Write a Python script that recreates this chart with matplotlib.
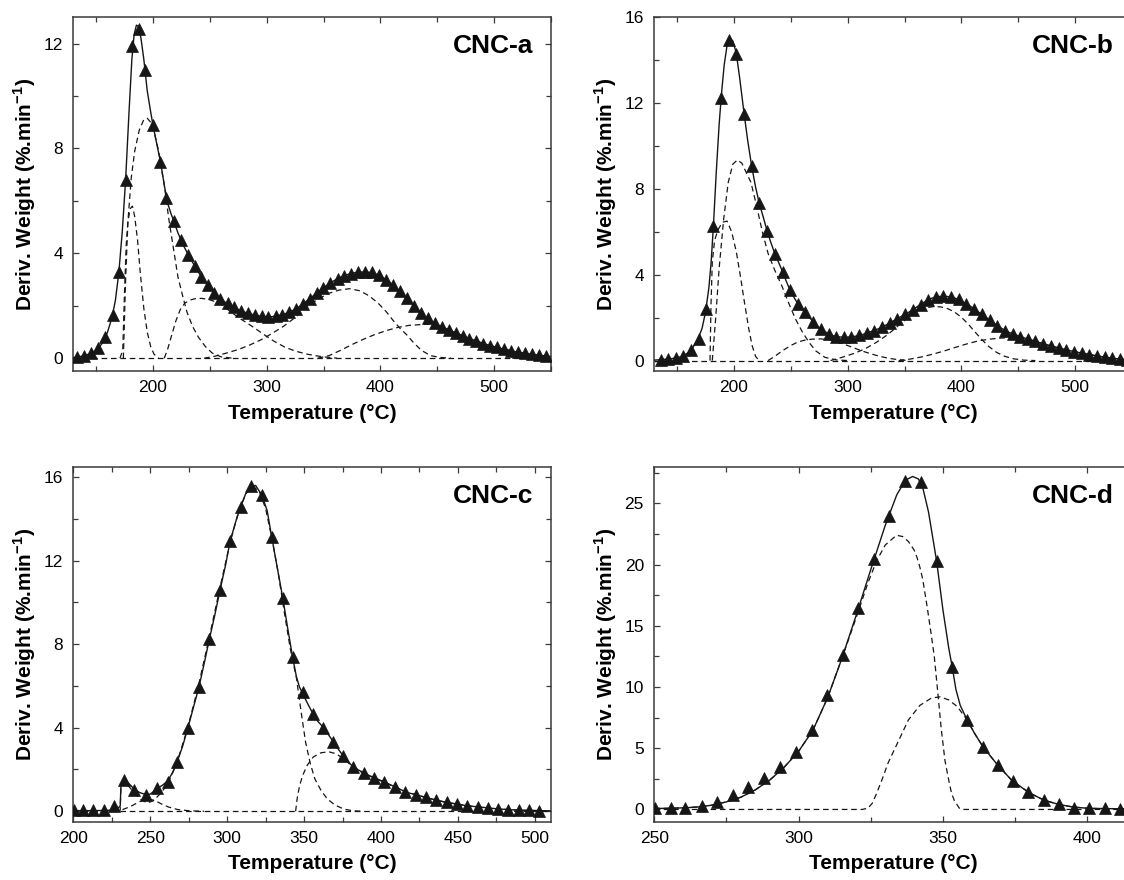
"""
DTG curves of four CNC samples with deconvoluted peaks (2x2 panels).
"""

import matplotlib
matplotlib.use("Agg")
import matplotlib.pyplot as plt
from matplotlib.ticker import MultipleLocator

plt.rcParams["font.family"] = ["Liberation Sans", "DejaVu Sans"]
plt.rcParams["mathtext.fontset"] = "custom"
plt.rcParams["mathtext.rm"] = "Liberation Sans"
plt.rcParams["mathtext.bf"] = "Liberation Sans:bold"

# ================================================================
# 1. data  (temperature in °C, DTG in %/min)
# ================================================================
# ---- CNC-a ----
a_pts_T = [133, 139, 145.5, 152, 158, 164.5, 170, 176, 181.8, 187.7, 193, 200, 206.6, 211.6,
           218.5, 224.8, 231, 236.8, 242.4, 248.4, 254, 259.4, 265.7, 271.3, 277.6, 283.6,
           289.5, 295.5, 301.5, 307.8, 313.7, 320, 326, 332, 338, 344, 349.9, 356, 362.4,
           368.4, 374.4, 380.6, 386.6, 392.9, 398.9, 404.8, 410.8, 417, 423.4, 429.3, 435.6,
           441.7, 447.8, 453.9, 460, 466.1, 472.2, 478.3, 484.4, 490.5, 496.6, 502.7, 508.8,
           514.9, 521, 527.1, 533.2, 539.3, 545.4]
a_pts_y = [0.04, 0.08, 0.18, 0.38, 0.8, 1.65, 3.3, 6.8, 11.9, 12.55, 11.0, 8.9, 7.5, 6.1,
           5.25, 4.5, 3.95, 3.5, 3.1, 2.78, 2.5, 2.27, 2.1, 1.94, 1.8, 1.72,
           1.65, 1.6, 1.58, 1.6, 1.65, 1.76, 1.88, 2.08, 2.27, 2.48, 2.67, 2.87, 3.02,
           3.15, 3.22, 3.27, 3.29, 3.27, 3.16, 3.0, 2.8, 2.55, 2.3, 2.0, 1.72,
           1.52, 1.33, 1.2, 1.08, 0.97, 0.86, 0.75, 0.65, 0.56, 0.48, 0.41, 0.34,
           0.28, 0.23, 0.19, 0.15, 0.11, 0.08]
a_fit_T = [130, 136, 142, 147, 152, 156, 160, 164, 167, 170, 173, 176, 179, 181.5, 183.5,
           185.5, 187.5, 189.5, 192, 195, 198, 200, 203, 206.6, 210, 213, 216, 219, 222,
           225, 228, 231, 234, 237, 240, 243, 246, 249, 252, 255, 259, 263, 267, 271, 276,
           281, 286, 291, 296, 301, 306, 311, 316, 321, 326, 331, 336, 341, 346, 351, 356,
           361, 366, 371, 376, 381, 386, 391, 396, 401, 406, 411, 416, 421, 426, 431, 436,
           441, 446, 452, 458, 464, 470, 476, 482, 488, 494, 500, 506, 512, 518, 524, 530,
           536, 542, 550]
a_fit_y = [0.02, 0.06, 0.13, 0.22, 0.38, 0.6, 0.98, 1.55, 2.2, 3.25, 4.8, 6.8, 9.4, 11.4, 12.35,
           12.7, 12.65, 12.2, 11.4, 10.2, 9.4, 8.9, 8.25, 7.5, 6.6, 5.9, 5.5, 5.15, 4.78,
           4.48, 4.2, 3.95, 3.72, 3.5, 3.28, 3.08, 2.9, 2.75, 2.6, 2.47, 2.3, 2.15, 2.04, 1.94, 1.83,
           1.75, 1.68, 1.63, 1.59, 1.57, 1.59, 1.63, 1.69, 1.78, 1.88, 2.04, 2.21, 2.38, 2.56, 2.72, 2.87,
           3.0, 3.11, 3.19, 3.25, 3.28, 3.29, 3.27, 3.21, 3.1, 2.96, 2.79, 2.58, 2.38, 2.15, 1.93, 1.71,
           1.53, 1.38, 1.24, 1.12, 1.0, 0.9, 0.79, 0.69, 0.6, 0.51, 0.44, 0.37, 0.31, 0.25, 0.21, 0.17,
           0.13, 0.1, 0.06]
a_c1_T = [171, 173.5, 175, 176.5, 178, 180, 182, 184, 186.5, 189, 192, 195, 198, 201, 205]
a_c1_y = [0, 0.3, 2.5, 4.3, 5.2, 5.7, 5.8, 5.4, 4.5, 3.2, 1.9, 1.0, 0.45, 0.15, 0]
a_c2_T = [174, 176, 178, 181, 184, 188, 192, 195, 198, 201, 205, 210, 214, 218, 222, 226, 230,
          235, 240, 246, 252, 260, 270]
a_c2_y = [0, 3.0, 5.2, 6.9, 7.9, 8.7, 9.1, 9.15, 9.0, 8.65, 7.9, 6.6, 5.3, 4.2, 3.1, 2.4, 1.75,
          1.2, 0.8, 0.45, 0.2, 0.05, 0]
a_c3_T = [210, 213, 216, 220, 224, 228, 233, 238, 243, 248, 254, 260, 268, 277, 286, 296, 306,
          316, 326, 336, 348, 362]
a_c3_y = [0, 0.35, 0.8, 1.4, 1.85, 2.1, 2.22, 2.28, 2.28, 2.25, 2.17, 2.05, 1.78, 1.5, 1.25, 0.95, 0.66,
          0.42, 0.26, 0.15, 0.06, 0]
a_c4_T = [245, 255, 265, 275, 285, 295, 305, 315, 325, 335, 345, 355, 364, 373, 382, 390, 398,
          405, 411, 417, 423, 429, 436, 444, 452, 462]
a_c4_y = [0, 0.08, 0.2, 0.33, 0.5, 0.7, 0.95, 1.22, 1.55, 1.95, 2.25, 2.48, 2.6, 2.65, 2.57, 2.38, 2.1,
          1.78, 1.45, 1.15, 0.9, 0.6, 0.3, 0.1, 0.03, 0]
a_c5_T = [345, 355, 365, 375, 385, 395, 405, 415, 425, 435, 442, 448, 454, 460, 466, 472, 478,
          484, 490, 497, 503, 509, 515, 521, 527, 533, 539, 545, 550]
a_c5_y = [0, 0.1, 0.3, 0.52, 0.72, 0.9, 1.05, 1.17, 1.25, 1.28, 1.3, 1.28, 1.18, 1.07, 0.97, 0.86, 0.75,
          0.65, 0.56, 0.48, 0.41, 0.34, 0.28, 0.23, 0.19, 0.15, 0.11, 0.08, 0.06]

# ---- CNC-b ----
b_pts_T = [135.6, 141.9, 148.9, 155.6, 162.5, 168.9, 175.6, 181.9, 188.9, 195.9, 202.2, 208.9,
           215.6, 222.2, 229.2, 235.9, 242.9, 249.5, 256.2, 262.5, 269.5, 276.2, 283.2, 289.8,
           296.5, 303.2, 310.2, 316.8, 323.5, 330.2, 337.1, 343.8, 350.5, 357.1, 364.1, 370.5,
           377.5, 384.1, 391.1, 397.8, 404.4, 411.1, 418.1, 424.8, 431.4, 438.1, 445.1, 451.7,
           458.4, 465.1, 472, 478.7, 485.4, 492, 499, 505.7, 512.4, 519, 526, 532.7, 539.4, 546]
b_pts_y = [0.03, 0.08, 0.12, 0.23, 0.51, 1.0, 2.4, 6.27, 12.26, 14.94, 14.3, 11.5,
           9.06, 7.35, 6.04, 4.98, 4.12, 3.27, 2.65, 2.26, 1.82, 1.48, 1.25, 1.12,
           1.09, 1.09, 1.17, 1.28, 1.4, 1.56, 1.76, 1.95, 2.15, 2.37, 2.61, 2.83,
           2.96, 3.0, 2.96, 2.85, 2.65, 2.41, 2.15, 1.9, 1.63, 1.4, 1.25, 1.12,
           1.01, 0.9, 0.78, 0.68, 0.59, 0.5, 0.42, 0.36, 0.28, 0.22, 0.16, 0.11, 0.06, 0.04]
b_fit_T = [130, 140, 148, 155, 160, 164, 168, 172, 175, 178, 180, 182, 184.5, 187, 189, 191.5,
           194, 196.5, 199, 202, 205, 208.5, 212, 215.6, 219, 222.2, 226, 229.2, 232.5, 236,
           239.5, 243, 246, 249.5, 253, 256.2, 259.5, 262.5, 266, 269.5, 273, 276.2, 280, 283.2,
           286.5, 289.8, 293, 296.5, 300, 306.5, 313.5, 320, 327, 333.5, 340.5, 347, 354, 360.5,
           367.5, 374, 381, 387.5, 394.5, 401, 408, 414.5, 421.5, 428, 435, 441.5, 448.5, 455,
           465, 472, 478.7, 485.4, 492, 499, 505.7, 512.4, 519, 526, 532.7, 539.4, 546, 550]
b_fit_y = [0.02, 0.06, 0.11, 0.2, 0.38, 0.62, 0.95, 1.5, 2.25, 3.4, 4.6, 6.3, 8.8, 11.0, 12.4, 13.8,
           14.7, 15.0, 14.9, 14.35, 13.2, 11.7, 10.3, 9.06, 8.1, 7.35, 6.65, 6.04, 5.5, 4.98,
           4.55, 4.12, 3.7, 3.27, 2.93, 2.65, 2.43, 2.26, 2.03, 1.82, 1.63, 1.48, 1.35, 1.25,
           1.17, 1.12, 1.1, 1.09, 1.09, 1.13, 1.22, 1.34, 1.48, 1.65, 1.86, 2.05, 2.26, 2.49,
           2.73, 2.91, 2.99, 2.99, 2.91, 2.75, 2.53, 2.28, 2.02, 1.76, 1.51, 1.32, 1.18, 1.06,
           0.9, 0.78, 0.68, 0.59, 0.5, 0.42, 0.35, 0.28, 0.22, 0.16, 0.11, 0.07, 0.04, 0.03]
b_c1_T = [179, 179.8, 181, 183, 186, 190, 194, 198, 202, 205.5, 209, 213, 216, 219, 222]
b_c1_y = [0, 2.5, 4.6, 5.6, 6.1, 6.45, 6.5, 6.0, 5.1, 4.0, 2.8, 1.5, 0.7, 0.2, 0]
b_c2_T = [181, 184, 187, 191, 195, 199, 203, 207, 211, 215, 220, 225, 230, 236, 242, 248, 254,
          260, 266, 272, 280, 290, 300]
b_c2_y = [0, 2.0, 4.3, 6.6, 8.3, 9.15, 9.35, 9.2, 8.75, 8.3, 7.2, 6.0, 5.0, 4.2, 3.5, 2.7, 1.95,
          1.35, 0.85, 0.45, 0.15, 0.03, 0]
b_c3_T = [230, 236, 243, 250, 256, 262, 269, 276, 283, 291, 298, 304, 310, 316, 322, 328, 335,
          342, 352]
b_c3_y = [0, 0.2, 0.47, 0.7, 0.86, 0.95, 1.0, 1.01, 0.98, 0.88, 0.74, 0.62, 0.5, 0.39, 0.29, 0.2, 0.12,
          0.06, 0]
b_c4_T = [285, 295, 305, 315, 325, 335, 345, 352, 358, 364, 370, 376, 382, 388, 394, 400, 406,
          412, 418, 424, 431, 438, 446, 455, 465]
b_c4_y = [0, 0.15, 0.32, 0.54, 0.84, 1.2, 1.65, 1.95, 2.18, 2.36, 2.47, 2.52, 2.5, 2.42, 2.26, 2.02, 1.7,
          1.33, 0.98, 0.66, 0.38, 0.2, 0.08, 0.02, 0]
b_c5_T = [345, 355, 365, 375, 385, 395, 405, 415, 425, 435, 445, 452, 458, 465, 472, 479, 485,
          492, 499, 506, 512, 519, 526, 533, 539, 546, 550]
b_c5_y = [0, 0.07, 0.17, 0.3, 0.45, 0.62, 0.78, 0.92, 1.0, 1.05, 1.07, 1.06, 1.0, 0.89, 0.78, 0.68, 0.59,
          0.5, 0.42, 0.35, 0.28, 0.22, 0.16, 0.11, 0.07, 0.04, 0.03]

# ---- CNC-c ----
c_pts_T = [200.5, 206.5, 213, 220, 226.5, 233.2, 239.7, 247.1, 254.1, 261.3, 267.5, 274.5,
           281.7, 288.4, 295.4, 301.9, 308.8, 315.5, 322.5, 329, 336.2, 342.5, 349, 355.7,
           362.6, 369.1, 375.4, 381.9, 388.9, 395.6, 402.1, 409, 415.8, 422.5, 429.2, 436,
           442.9, 449.7, 456.1, 463.1, 469.8, 476.3, 482.8, 489.8, 496.5, 503]
c_pts_y = [0.05, 0.05, 0.05, 0.05, 0.26, 1.49, 1.0, 0.77, 1.09, 1.41, 2.37, 4.01,
           5.96, 8.23, 10.6, 12.92, 14.59, 15.58, 15.15, 13.12, 10.2, 7.4, 5.72, 4.68,
           4.01, 3.32, 2.65, 2.13, 1.84, 1.61, 1.41, 1.17, 0.93, 0.8, 0.66, 0.53,
           0.42, 0.34, 0.26, 0.21, 0.16, 0.11, 0.08, 0.05, 0.05, 0.03]
c_fit_T = [200, 215, 225, 229, 230.5, 231, 232.5, 234, 236.5, 239.7, 243, 247, 250, 254, 258,
           261.3, 264.5, 267.5, 271, 274.5, 278, 281.7, 285, 288.4, 292, 295.4, 299, 301.9,
           305.5, 308.8, 312, 315.5, 318.5, 322.5, 326, 329, 332.5, 336.2, 339.5, 342.5, 345,
           347, 349, 352, 355.7, 359, 362.6, 366, 369.1, 372, 375.4, 378.5, 381.9, 385.5,
           388.9, 392, 395.6, 399, 402.1, 405.5, 409, 412.5, 415.8, 419, 422.5, 429.2, 436,
           442.9, 449.7, 456.1, 463.1, 469.8, 476.3, 482.8, 489.8, 496.5, 503, 510.5]
c_fit_y = [0.03, 0.03, 0.05, 0.15, 0.25, 1.3, 1.45, 1.45, 1.3, 1.05, 0.9, 0.8, 0.82, 1.05, 1.25,
           1.45, 1.85, 2.37, 3.1, 4.0, 4.95, 5.96, 7.05, 8.23, 9.4, 10.6, 11.8, 12.92,
           13.85, 14.59, 15.2, 15.55, 15.6, 15.15, 14.4, 13.12, 11.7, 10.2, 8.7, 7.4, 6.45,
           5.95, 5.65, 5.2, 4.68, 4.3, 4.01, 3.65, 3.32, 3.0, 2.65, 2.38, 2.13, 1.97,
           1.84, 1.72, 1.61, 1.5, 1.41, 1.29, 1.17, 1.05, 0.93, 0.86, 0.8, 0.66, 0.53,
           0.42, 0.34, 0.26, 0.21, 0.16, 0.11, 0.08, 0.05, 0.04, 0.03, 0.02]
c_c1_T = [229, 230.5, 231, 233, 236, 240, 244, 248, 252, 256, 261, 267, 274, 281, 288, 295, 302,
          308, 313, 317, 321, 325, 329, 333, 337, 341, 345, 348, 351, 354, 357, 361, 365, 370,
          376, 382, 388]
c_c1_y = [0, 0.05, 1.3, 1.4, 1.2, 0.85, 0.55, 0.4, 0.5, 0.8, 1.25, 2.25, 3.9, 5.9, 8.2, 10.6, 12.9,
          14.5, 15.3, 15.55, 15.3, 14.5, 13.1, 11.5, 9.6, 7.8, 6.4, 4.8, 3.3, 2.3, 1.55, 1.0, 0.6, 0.3,
          0.1, 0.02, 0]
c_c2_T = [226, 232, 237, 241, 245, 249, 253, 257, 262, 268, 276, 285]
c_c2_y = [0, 0.08, 0.22, 0.38, 0.52, 0.58, 0.52, 0.36, 0.2, 0.08, 0.02, 0]
c_c3_T = [344.5, 345.5, 347, 349, 352, 356, 361, 366, 371, 376, 382, 389, 396, 402, 409, 416,
          422.5, 429, 436, 443, 450, 456, 463, 470, 476, 483, 490, 497, 503, 510.5]
c_c3_y = [0, 0.6, 1.2, 1.7, 2.2, 2.6, 2.8, 2.85, 2.75, 2.5, 2.1, 1.8, 1.58, 1.39, 1.16, 0.93,
          0.8, 0.66, 0.53, 0.42, 0.34, 0.26, 0.21, 0.16, 0.11, 0.08, 0.05, 0.04, 0.03, 0.02]

# ---- CNC-d ----
d_pts_T = [250.4, 255.7, 260.8, 266.4, 271.7, 277.2, 282.6, 288, 293.6, 299, 304.6, 309.8,
           315.4, 320.7, 326.2, 331.4, 336.7, 342.3, 347.8, 353.2, 358.4, 363.8, 369, 374.3,
           379.6, 384.9, 390.2, 395.5, 400.7, 406.2, 411.5]
d_pts_y = [0.08, 0.08, 0.14, 0.27, 0.63, 1.17, 1.85, 2.61, 3.49, 4.71, 6.48, 9.34,
           12.61, 16.42, 20.42, 23.96, 26.85, 26.77, 20.32, 11.66, 7.3, 5.07, 3.62, 2.34,
           1.44, 0.76, 0.44, 0.16, 0.08, 0.08, 0.05]
d_fit_T = [250, 256, 261, 266, 270, 275, 280, 285, 290, 295, 300, 305, 310, 315, 320, 325, 330,
           334, 337, 339.5, 341.5, 343, 345, 347.8, 350, 352, 353.2, 354.5, 356, 358.4, 361,
           364, 369, 374, 380, 385, 390, 395, 400, 406, 415.5]
d_fit_y = [0.08, 0.1, 0.14, 0.22, 0.35, 0.62, 1.0, 1.6, 2.4, 3.45, 4.75, 6.5, 9.1, 12.35, 15.9, 19.6, 23.2,
           25.7, 26.9, 27.2, 27.0, 26.3, 24.3, 20.3, 16.3, 13.2, 11.66, 9.8, 8.5, 7.3, 6.2,
           5.07, 3.62, 2.34, 1.35, 0.76, 0.42, 0.2, 0.1, 0.07, 0.05]
d_c1_T = [250, 256, 261, 266, 270, 275, 280, 285, 290, 295, 300, 305, 310, 315, 320, 324, 327,
          330, 333.9, 336, 338, 340, 341, 342, 343, 344.5, 346, 347, 348.2, 349.4, 350.7, 352,
          353, 354, 355.7, 357, 415.5]
d_c1_y = [0.08, 0.1, 0.14, 0.22, 0.35, 0.62, 1.0, 1.6, 2.4, 3.45, 4.75, 6.5, 9.1, 12.35, 15.7, 18.5, 20.3,
          21.6, 22.4, 22.3, 21.9, 21.2, 20.6, 19.8, 18.8, 16.6, 14.2, 12.5, 9.6, 6.6, 4.0, 2.4,
          1.3, 0.7, 0.1, 0, 0]
d_c2_T = [250, 322, 324, 325.5, 327, 329, 331, 334, 338, 342, 346, 349, 352, 355, 358.4, 361,
          364, 369, 374, 380, 385, 390, 395, 400, 406, 415.5]
d_c2_y = [0, 0, 0.1, 0.5, 1.3, 2.5, 3.8, 5.3, 7.3, 8.5, 9.1, 9.2, 8.95, 8.4, 7.3, 6.2,
          5.07, 3.62, 2.34, 1.35, 0.76, 0.42, 0.2, 0.1, 0.05, 0.03]

# ================================================================
# 2. style
# ================================================================
INK = "#161616"
SPINE = "#3a3a3a"
DASH = (4.5, 3.0)
W, H = 1124, 880

Y_LABEL = r"Deriv. Weight (%.min$^{\mathbf{-1}}$)"
X_LABEL = "Temperature (°C)"


def draw_panel(ax, tag, pts, fit, comps, xlim, ylim, xmaj, xmin, ymaj, ymin, baseline=True):
    for cT, cy in comps:
        ax.plot(cT, cy, color=INK, lw=0.9, dashes=DASH)
    if baseline:
        ax.axhline(0, color=INK, lw=0.9, dashes=DASH)
    ax.plot(fit[0], fit[1], color=INK, lw=1.0, zorder=3)
    ax.plot(pts[0], pts[1], ls="none", marker="^", ms=9, color=INK, mec=INK, mew=0.5, zorder=4)

    ax.set_xlim(*xlim)
    ax.set_ylim(*ylim)
    ax.xaxis.set_major_locator(MultipleLocator(xmaj))
    ax.xaxis.set_minor_locator(MultipleLocator(xmin))
    ax.yaxis.set_major_locator(MultipleLocator(ymaj))
    ax.yaxis.set_minor_locator(MultipleLocator(ymin))
    ax.tick_params(which="both", direction="in", top=True, right=True,
                   color=SPINE, width=0.9, labelsize=12.5, labelcolor="black")
    ax.tick_params(which="major", length=4.5)
    ax.tick_params(which="minor", length=3.5)
    ax.tick_params(axis="x", pad=6.5)
    ax.tick_params(axis="y", pad=7.5)
    for sp in ax.spines.values():
        sp.set_color(SPINE)
        sp.set_linewidth(1.1)

    ax.set_xlabel(X_LABEL, fontsize=15, fontweight="bold")
    ax.set_ylabel(Y_LABEL, fontsize=15, fontweight="bold")
    ax.xaxis.set_label_coords(0.5, -0.092)
    ax.yaxis.set_label_coords(-0.074, 0.5)
    ax.text(0.962, 0.952, tag, transform=ax.transAxes, ha="right", va="top",
            fontsize=19, fontweight="bold")


# ================================================================
# 3. figure
# ================================================================
fig = plt.figure(figsize=(W / 100, H / 100), dpi=100)
fig.patch.set_facecolor("white")

aw, ah = 477.7 / W, 354 / H
left_l, left_r = 73.3 / W, 654.3 / W
bot_top, bot_bot = (H - 371.3) / H, (H - 821.7) / H

ax_a = fig.add_axes([left_l, bot_top, aw, ah])
ax_b = fig.add_axes([left_r, bot_top, aw, ah])
ax_c = fig.add_axes([left_l, bot_bot, aw, ah + 1 / H])
ax_d = fig.add_axes([left_r, bot_bot, aw, ah + 1 / H])

draw_panel(ax_a, "CNC-a", (a_pts_T, a_pts_y), (a_fit_T, a_fit_y),
           [(a_c1_T, a_c1_y), (a_c2_T, a_c2_y), (a_c3_T, a_c3_y), (a_c4_T, a_c4_y), (a_c5_T, a_c5_y)],
           (130, 550), (-0.5, 13), 100, 50, 4, 2)
draw_panel(ax_b, "CNC-b", (b_pts_T, b_pts_y), (b_fit_T, b_fit_y),
           [(b_c1_T, b_c1_y), (b_c2_T, b_c2_y), (b_c3_T, b_c3_y), (b_c4_T, b_c4_y), (b_c5_T, b_c5_y)],
           (130, 550), (-0.5, 16), 100, 50, 4, 2)
draw_panel(ax_c, "CNC-c", (c_pts_T, c_pts_y), (c_fit_T, c_fit_y),
           [(c_c1_T, c_c1_y), (c_c2_T, c_c2_y), (c_c3_T, c_c3_y)],
           (200, 510.5), (-0.5, 16.5), 50, 25, 4, 2)
draw_panel(ax_d, "CNC-d", (d_pts_T, d_pts_y), (d_fit_T, d_fit_y),
           [(d_c1_T, d_c1_y), (d_c2_T, d_c2_y)],
           (250, 415.5), (-1, 28), 50, 25, 5, 2.5, baseline=False)

fig.savefig("out.png", dpi=100)
plt.close(fig)
